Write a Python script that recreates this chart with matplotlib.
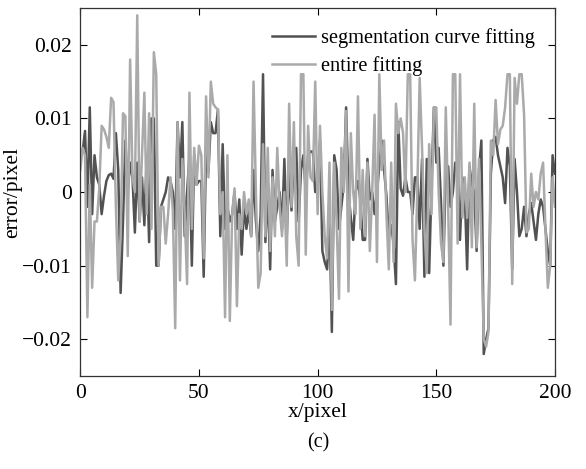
import matplotlib.pyplot as plt
import numpy as np
from matplotlib.ticker import FuncFormatter

plt.rcParams['font.family'] = ['Liberation Serif', 'DejaVu Serif']

# errors in units of 0.001 pixel, x = 0..200
segmentation = [
    5.0, 5.5, 8.3, -2.0, 11.5, -3.0, 5.0, 2.0, 1.0, -3.0,
    -0.5, 1.5, 2.3, 2.5, 1.8, 8.0, 3.0, -13.7, -4.0, 7.0,
    0.0, 4.0, 2.0, -5.5, 4.0, -4.0, 2.0, -4.5, 5.0, -6.8,
    10.0, 10.0, -10.0, -10.0, -2.0, -1.0, 0.0, 2.0, 1.5, 0.0,
    -5.0, 9.5, 2.0, 9.5, -6.0, 0.0, 5.0, -10.0, 5.0, 1.0,
    1.5, 1.5, -11.5, 6.0, 2.7, 9.5, 8.0, 8.0, 11.2, -6.0,
    6.5, -5.0, -2.0, -4.0, -3.0, 0.0, -5.0, -1.0, -8.5, -2.0,
    -5.0, -2.5, -6.0, 3.0, -4.0, -8.0, -3.0, 16.0, -6.8, 0.5,
    -10.5, 3.0, -4.0, -2.0, 0.0, -5.0, 4.5, -6.0, 3.0, -2.5,
    5.0, 6.0, -4.0, 3.0, 5.0, 0.0, 5.0, 5.5, 5.5, 0.0,
    0.5, 7.0, -8.0, -9.5, -10.5, -3.0, -19.0, 5.0, 3.0, -5.0,
    -2.0, 1.0, 11.5, 0.0, -3.5, -6.5, 0.0, 1.5, -1.0, -6.5,
    -6.5, 4.5, -1.0, 0.0, -3.0, 0.0, 3.5, 7.0, 3.0, -0.5,
    -6.0, -4.5, -7.0, -12.5, 9.5, 0.5, -0.5, 2.0, 0.0, 0.0,
    -3.0, 2.0, 2.0, -5.0, 4.5, -11.5, 4.5, -11.0, 1.0, 11.5,
    4.0, 6.0, -1.5, -10.0, 3.0, 3.5, -2.0, 0.0, 4.0, 4.0,
    -6.5, 2.0, 0.0, -10.5, 3.5, 1.0, 0.0, -8.0, 3.0, 7.0,
    -22.0, -20.0, -18.5, 2.5, 7.0, 7.5, 5.0, 3.5, 2.0, -1.5,
    6.0, 3.5, -10.5, 4.5, 0.0, -6.0, -5.0, -2.0, -6.0, -3.0,
    -1.5, -4.0, -6.5, -3.0, -1.0, -2.0, -5.0, -8.0, -10.0, 5.0,
    2.5,
]
entire = [
    3.0, 6.0, 5.0, -17.0, 1.0, -13.0, -4.0, -4.0, 0.5, 9.0,
    8.5, 7.5, 6.0, 12.8, 12.2, -2.0, -12.0, -6.0, 10.7, 10.3,
    -8.7, 18.0, 2.0, 0.0, 24.0, -4.0, 5.0, 13.5, -3.0, 10.7,
    -5.0, 19.0, 16.0, -10.0, -2.0, -2.0, -7.0, -3.0, 2.0, -2.5,
    -18.5, 9.5, -12.0, 4.5, -3.0, -12.5, 13.5, -5.0, 6.0, 1.0,
    6.3, 5.0, -9.0, 13.0, 2.0, 15.0, 12.0, 11.5, 11.2, -3.0,
    0.0, -17.0, 5.0, -17.5, -3.0, 0.5, -15.5, -3.0, -5.0, 0.0,
    -3.0, -1.0, -6.0, 15.0, 0.0, -13.0, -11.0, 6.5, -6.0, 6.0,
    -8.0, 2.0, -6.0, 6.0, -2.0, -6.0, 0.0, -10.0, 12.0, -2.0,
    9.5, -6.0, -10.0, 16.0, 16.0, -8.5, 9.0, 2.0, 1.5, 15.0,
    -3.0, 9.0, 0.0, -6.0, -9.0, 4.0, -16.0, 4.0, -4.0, -14.5,
    6.0, 0.0, 11.0, -13.5, 8.0, 0.0, -3.0, 13.0, -5.0, 3.0,
    -6.0, 4.0, -8.0, 0.0, 10.5, -9.5, 16.0, 3.0, 7.0, -3.0,
    -10.5, 4.0, -9.5, 12.0, 8.0, 10.0, 8.0, 0.0, 16.0, 16.0,
    -6.5, -12.0, 0.0, 15.5, 6.0, -5.0, -11.0, 6.5, -3.0, 11.5,
    11.5, 0.0, -7.0, -9.5, 11.5, -2.0, -18.0, 16.0, 16.0, -7.0,
    16.0, -3.5, 2.0, -3.5, 4.0, -7.5, 12.0, -7.5, 4.5, -7.0,
    -20.0, -21.0, -19.0, 7.0, 5.0, 12.5, 6.5, 8.5, 9.0, 11.5,
    16.0, 16.0, -12.5, 15.5, 12.0, 16.0, 16.0, 10.5, -5.5, -5.0,
    2.5, -2.0, 0.0, -1.0, 2.5, 4.0, -5.0, -13.0, -10.0, 2.0,
    -2.0,
]
x = np.arange(len(segmentation))
seg = np.array(segmentation) * 1e-3
ent = np.array(entire) * 1e-3

fig = plt.figure(figsize=(5.86, 4.69), dpi=100)
ax = fig.add_axes([0.137, 0.198, 0.810, 0.785])

ax.plot(x, seg, color='#525252', lw=1.8, label='segmentation curve fitting')
ax.plot(x, ent, color='#aaaaaa', lw=1.8, label='entire fitting')

ax.set_xlim(0, 200)
ax.set_ylim(-0.025, 0.025)
ax.set_xticks([0, 50, 100, 150, 200])
ax.set_yticks([-0.02, -0.01, 0, 0.01, 0.02])
ax.yaxis.set_major_formatter(FuncFormatter(lambda v, p: '0' if abs(v) < 1e-9 else f'{v:.2f}'.replace('-', '\u2212')))
ax.tick_params(direction='in', top=True, right=True, length=5, labelsize=15.5, pad=6)
for s in ax.spines.values():
    s.set_linewidth(0.9)
    s.set_color('#333333')

ax.set_xlabel('x/pixel', fontsize=15.5, labelpad=0)
ax.set_ylabel('error/pixel', fontsize=15.5, labelpad=0)

ax.legend(loc='upper right', frameon=False, fontsize=14.7, handlelength=2.1,
          handletextpad=0.3, labelspacing=0.4, borderaxespad=0.6)

fig.text(0.543, 0.055, '(c)', ha='center', va='center', fontsize=14.5)

fig.savefig('out.png', dpi=100)
